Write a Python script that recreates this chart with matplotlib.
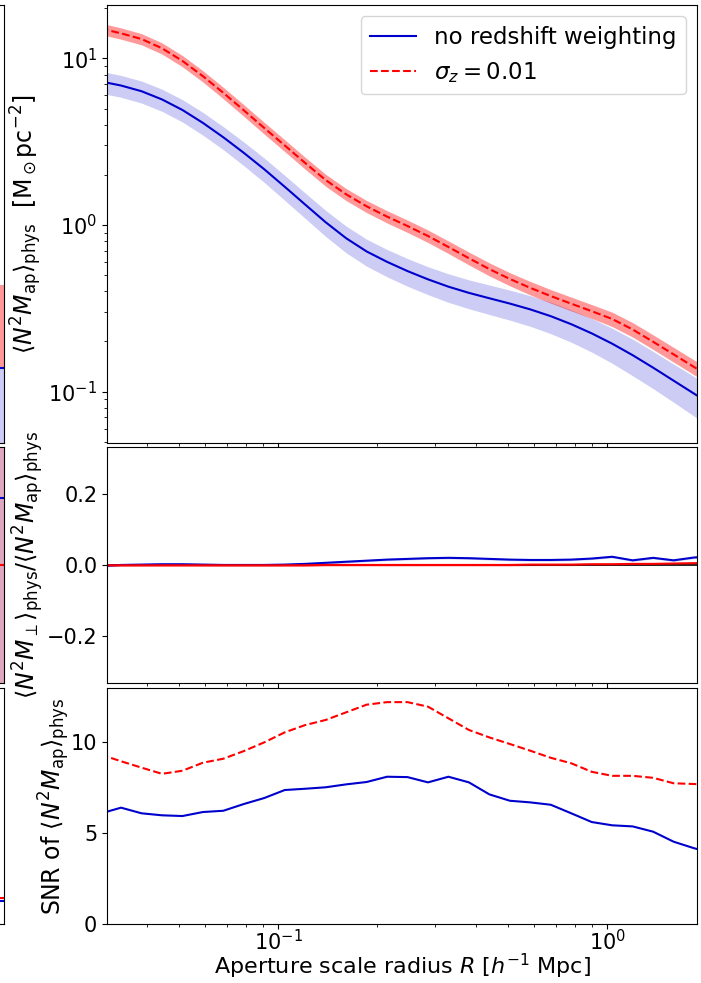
import matplotlib
matplotlib.use('Agg')
import matplotlib.pyplot as plt
import numpy as np

R = [0.02888, 0.03332, 0.03845, 0.04437, 0.05120, 0.05908, 0.06817, 0.07867,
     0.09078, 0.1048, 0.1209, 0.1395, 0.1610, 0.1858, 0.2144, 0.2474, 0.2855,
     0.3294, 0.3802, 0.4387, 0.5063, 0.5842, 0.6742, 0.7780, 0.8981, 1.0363,
     1.1960, 1.3801, 1.5926, 1.8379, 2.1210]

# <N^2 M_ap>_phys, no redshift weighting
nmap_noz = [7.27, 6.87, 6.35, 5.67, 4.90, 4.10, 3.36, 2.71, 2.16, 1.695, 1.326,
            1.039, 0.833, 0.694, 0.601, 0.529, 0.472, 0.4265, 0.3915, 0.3634, 0.3377,
            0.3116, 0.2837, 0.2540, 0.2237, 0.1940, 0.1655, 0.1393, 0.1164, 0.0973, 0.0813]
nmap_noz_err = [1.09, 1.03, 0.96, 0.86, 0.75, 0.64, 0.53, 0.44, 0.36, 0.29, 0.23,
                0.185, 0.152, 0.128, 0.112, 0.100, 0.090, 0.083, 0.077, 0.073, 0.069,
                0.065, 0.061, 0.056, 0.051, 0.046, 0.041, 0.035, 0.030, 0.026, 0.022]

# <N^2 M_ap>_phys, sigma_z = 0.01
nmap_sz = [15.10, 14.13, 13.06, 11.50, 9.65, 7.82, 6.21, 4.88, 3.82, 3.00, 2.355,
           1.862, 1.528, 1.295, 1.123, 0.986, 0.859, 0.738, 0.632, 0.5437, 0.4745,
           0.4195, 0.3746, 0.3372, 0.3040, 0.2729, 0.2360, 0.1992, 0.1674, 0.1406, 0.1182]
nmap_sz_err = [1.18, 1.10, 1.01, 0.89, 0.75, 0.61, 0.49, 0.39, 0.31, 0.245, 0.193,
               0.154, 0.127, 0.108, 0.095, 0.084, 0.074, 0.064, 0.056, 0.049, 0.043,
               0.039, 0.035, 0.032, 0.029, 0.027, 0.0235, 0.020, 0.017, 0.0143, 0.0121]

# cross component ratio <N^2 M_perp>/<N^2 M_ap>
ratio_noz = [-0.002, 0.001, 0.002, 0.003, 0.003, 0.002, 0.001, 0.001, 0.001, 0.002,
             0.004, 0.007, 0.010, 0.013, 0.016, 0.018, 0.020, 0.021, 0.020, 0.018,
             0.016, 0.015, 0.015, 0.016, 0.019, 0.024, 0.014, 0.021, 0.014, 0.022, 0.026]
ratio_sz = [0.000, 0.000, 0.000, 0.000, 0.000, 0.000, 0.000, 0.000, 0.000, 0.000,
            0.000, 0.001, 0.001, 0.001, 0.001, 0.001, 0.001, 0.001, 0.001, 0.001,
            0.001, 0.002, 0.002, 0.002, 0.003, 0.003, 0.004, 0.004, 0.005, 0.006, 0.006]
ratio_err = 0.003

# signal to noise ratio
snr_noz = [6.09, 6.41, 6.10, 5.99, 5.95, 6.17, 6.24, 6.61, 6.94, 7.38, 7.45,
           7.53, 7.69, 7.82, 8.11, 8.09, 7.80, 8.11, 7.80, 7.14, 6.79, 6.70,
           6.57, 6.10, 5.62, 5.44, 5.38, 5.09, 4.54, 4.18, 3.90]
snr_sz = [9.33, 8.96, 8.61, 8.27, 8.44, 8.88, 9.10, 9.52, 10.0, 10.55, 10.95,
          11.23, 11.65, 12.07, 12.21, 12.21, 11.96, 11.32, 10.68, 10.27, 9.91,
          9.54, 9.15, 8.85, 8.38, 8.16, 8.16, 8.05, 7.75, 7.71, 7.65]

# neighbouring figure cut off at the left edge (only its right end is visible)
left_x = [0.0, 1.0]
left_top_red_lo = [0.139, 0.139]
left_top_red_hi = [0.436, 0.436]
left_top_blue = [0.139, 0.139]
left_mid_top = [0.33, 0.33]
left_mid_blue = [0.19, 0.19]
left_snr = [1.45, 1.45]

blue = 'mediumblue'
red = 'red'
plt.rcParams['font.size'] = 15
lab_fs = 17
leg_fs = 16.5

fig = plt.figure(figsize=(7.01, 9.83), dpi=100)
W, H = 701.0, 983.0
x0, x1 = 107 / W, 697 / W
ax1 = fig.add_axes([x0, 1 - 442.7 / H, x1 - x0, (442.7 - 5) / H])
ax2 = fig.add_axes([x0, 1 - 683.3 / H, x1 - x0, (683.3 - 447.3) / H], sharex=ax1)
ax3 = fig.add_axes([x0, 1 - 924.3 / H, x1 - x0, (924.3 - 688.3) / H], sharex=ax1)

# top panel
ax1.fill_between(R, np.array(nmap_noz) - np.array(nmap_noz_err),
                 np.array(nmap_noz) + np.array(nmap_noz_err), color=blue, alpha=0.2, lw=0)
ax1.fill_between(R, np.array(nmap_sz) - np.array(nmap_sz_err),
                 np.array(nmap_sz) + np.array(nmap_sz_err), color=red, alpha=0.4, lw=0)
ax1.plot(R, nmap_noz, color=blue, lw=1.5, label='no redshift weighting')
ax1.plot(R, nmap_sz, color=red, lw=1.5, ls='--', label=r'$\sigma_z = 0.01$')
ax1.set_xscale('log')
ax1.set_yscale('log')
ax1.set_ylim(0.0494, 20.9)
ax1.set_ylabel(r'$\langle N^2 M_{\rm ap}\rangle_{\rm phys}$  [M$_\odot$pc$^{-2}$]',
               fontsize=lab_fs, labelpad=3.4)
ax1.legend(loc='upper right', fontsize=leg_fs)
ax1.tick_params(labelbottom=False)

# middle panel
ax2.axhline(0, color='k', lw=1.2)
ax2.fill_between(R, np.array(ratio_noz) - ratio_err, np.array(ratio_noz) + ratio_err,
                 color=blue, alpha=0.2, lw=0)
ax2.fill_between(R, np.array(ratio_sz) - ratio_err, np.array(ratio_sz) + ratio_err,
                 color=red, alpha=0.4, lw=0)
ax2.plot(R, ratio_noz, color=blue, lw=1.5)
ax2.plot(R, ratio_sz, color=red, lw=1.5)
ax2.set_ylim(-0.332, 0.332)
ax2.set_yticks([-0.2, 0.0, 0.2])
ax2.set_ylabel(r'$\langle N^2 M_\perp\rangle_{\rm phys}/\langle N^2 M_{\rm ap}\rangle_{\rm phys}$',
               fontsize=lab_fs, labelpad=0.5)
ax2.tick_params(labelbottom=False)

# bottom panel
ax3.plot(R, snr_noz, color=blue, lw=1.5)
ax3.plot(R, snr_sz, color=red, lw=1.5, ls='--')
ax3.set_ylim(0, 12.97)
ax3.set_yticks([0, 5, 10])
ax3.set_ylabel(r'SNR of $\langle N^2 M_{\rm ap}\rangle_{\rm phys}$', fontsize=lab_fs, labelpad=-1.2)
ax3.tick_params(axis='x', which='major', pad=0)
ax3.set_xlabel(r'Aperture scale radius $R$ [$h^{-1}$ Mpc]', fontsize=16, va='bottom')
# keep the label just inside the bottom edge of the figure
ax3.xaxis.set_label_coords(0.5, (1.5 - (H - 924.3)) / (924.3 - 688.3))
ax3.set_xlim(0.0302, 1.876)

# cut-off neighbour panels
lw_ = -0.3
lr = 4 / W
la1 = fig.add_axes([lw_, 1 - 442.7 / H, lr - lw_, (442.7 - 5) / H])
la1.fill_between(left_x, left_top_red_lo, left_top_red_hi, color=red, alpha=0.4, lw=0)
la1.fill_between(left_x, 0.01, left_top_blue, color=blue, alpha=0.2, lw=0)
la1.plot(left_x, left_top_blue, color=blue, lw=1.5)
la1.set_yscale('log')
la1.set_ylim(0.0494, 20.9)
la1.set_xlim(0, 1)
la2 = fig.add_axes([lw_, 1 - 683.3 / H, lr - lw_, (683.3 - 447.3) / H])
la2.fill_between(left_x, -0.332, left_mid_top, color=red, alpha=0.25, lw=0)
la2.fill_between(left_x, -0.332, left_mid_top, color=blue, alpha=0.12, lw=0)
la2.axhline(0, color=red, lw=1.5)
la2.plot(left_x, left_mid_blue, color=blue, lw=1.5)
la2.set_ylim(-0.332, 0.332)
la2.set_xlim(0, 1)
la3 = fig.add_axes([lw_, 1 - 924.3 / H, lr - lw_, (924.3 - 688.3) / H])
la3.plot(left_x, left_snr, color=red, lw=1.5, ls='--')
la3.plot(left_x, np.array(left_snr) - 0.15, color=blue, lw=1.5)
la3.set_ylim(0, 12.97)
la3.set_xlim(0, 1)
for a in (la1, la2, la3):
    a.set_xticks([])
    a.set_yticks([])
    a.minorticks_off()

fig.savefig('out.png', dpi=100)
